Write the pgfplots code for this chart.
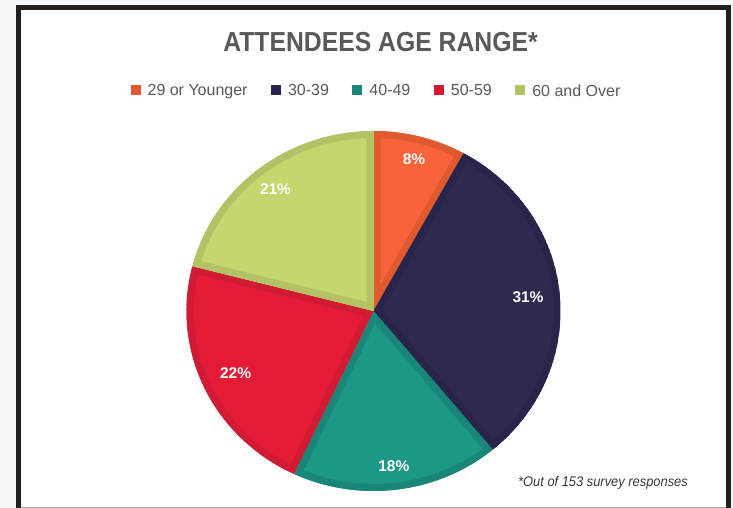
\documentclass[border=0pt]{standalone}
\usepackage{pgfplots}
\pgfplotsset{compat=1.18}
\usepackage{pgfplotstable}
\usepackage{fontspec}
\setmainfont{Liberation Sans}
\newfontfamily\titlefont{Liberation Sans}[FakeStretch=0.9]
\newfontfamily\notefont{Liberation Sans}[FakeStretch=0.92]
\definecolor{bg}{HTML}{F5F9FB}
\definecolor{framec}{HTML}{231F20}
\definecolor{txt}{HTML}{595959}
\definecolor{fc0}{HTML}{F9633A}
\definecolor{fc1}{HTML}{2E2A4F}
\definecolor{fc2}{HTML}{1C9889}
\definecolor{fc3}{HTML}{E41B37}
\definecolor{fc4}{HTML}{C5D66E}
\definecolor{lc0}{HTML}{E05A30}
\definecolor{lc1}{HTML}{29254A}
\definecolor{lc2}{HTML}{198679}
\definecolor{lc3}{HTML}{D11B34}
\definecolor{lc4}{HTML}{B2C264}
\tikzset{lbl/.style={text=white, font=\bfseries\fontsize{15.5}{18}\selectfont}}
% group, percent of responses, label radius factor
\pgfplotstableread{
group pct lr
0 8 0.87
1 31 0.83
2 18 0.87
3 22 0.815
4 21 0.855
}\agedata
\begin{document}
\begin{tikzpicture}
\begin{axis}[
  at={(0,0)}, anchor=south west,
  x=1pt, y=1pt, xmin=0, xmax=733, ymin=0, ymax=508,
  hide axis, clip=false,
  legend style={at={(axis cs:376.5,417)}, anchor=center, draw=none, fill=none,
    legend columns=-1, font=\fontsize{16}{19}\selectfont, text=txt, inner sep=0pt,
    /tikz/every odd column/.append style={column sep=5pt},
    /tikz/every even column/.append style={column sep=21.5pt}},
  legend cell align=left,
  legend image code/.code={\fill[#1, draw=none] (0pt,-4.5pt) rectangle (10pt,5.5pt);},
]
\fill[bg] (axis cs:0,0) rectangle (axis cs:733,508);
\fill[framec] (axis cs:16,0) rectangle (axis cs:731,503);
\fill[white] (axis cs:21,1) rectangle (axis cs:726,497.5);
\fill[gray!70] (axis cs:21,0) rectangle (axis cs:726,1);
\coordinate (ll) at (axis cs:0,0);
\coordinate (ur) at (axis cs:733,508);
\def\cum{0}
\pgfplotstablegetrowsof{\agedata}
\pgfmathtruncatemacro{\nlast}{\pgfplotsretval-1}
\pgfplotsforeachungrouped \i in {0,...,\nlast}{%
  \pgfplotstablegetelem{\i}{pct}\of{\agedata}\let\p\pgfplotsretval
  \pgfplotstablegetelem{\i}{lr}\of{\agedata}\let\lr\pgfplotsretval
  \pgfmathsetmacro{\aA}{90-3.6*\cum}%
  \pgfmathsetmacro{\aB}{90-3.6*(\cum+\p)}%
  \pgfmathsetmacro{\aM}{(\aA+\aB)/2}%
  \pgfmathsetmacro{\cum}{\cum+\p}%
  \pgfmathsetmacro{\lx}{373.5+\lr*187*cos(\aM)}%
  \pgfmathsetmacro{\ly}{197+\lr*180*sin(\aM)}%
  \edef\doslice{%
    \noexpand\begin{scope}
    \noexpand\clip (axis cs:373.5,197) -- ++(\aA:187pt and 180pt) arc[start angle=\aA, end angle=\aB, x radius=187pt, y radius=180pt] -- cycle;
    \noexpand\filldraw[fill=fc\i, draw=lc\i, line width=14pt] (axis cs:373.5,197) -- ++(\aA:187pt and 180pt) arc[start angle=\aA, end angle=\aB, x radius=187pt, y radius=180pt] -- cycle;
    \noexpand\end{scope}
    \noexpand\node[lbl] at (axis cs:\lx,\ly) {\p\noexpand\%};
  }\doslice
}
\node[text=txt, font=\titlefont\bfseries\fontsize{27.5}{30}\selectfont] at (axis cs:380.5,465.5) {ATTENDEES AGE RANGE*};
\node[text=black!78, font=\notefont\itshape\fontsize{14}{16}\selectfont] at (axis cs:603,25) {*Out of 153 survey responses};
\addlegendimage{fill=lc0}\addlegendentry{29 or Younger}
\addlegendimage{fill=lc1}\addlegendentry{30-39}
\addlegendimage{fill=lc2}\addlegendentry{40-49}
\addlegendimage{fill=lc3}\addlegendentry{50-59}
\addlegendimage{fill=lc4}\addlegendentry{60 and Over}
\end{axis}
\pgfresetboundingbox
\path (ll) rectangle (ur);
\end{tikzpicture}
\end{document}
